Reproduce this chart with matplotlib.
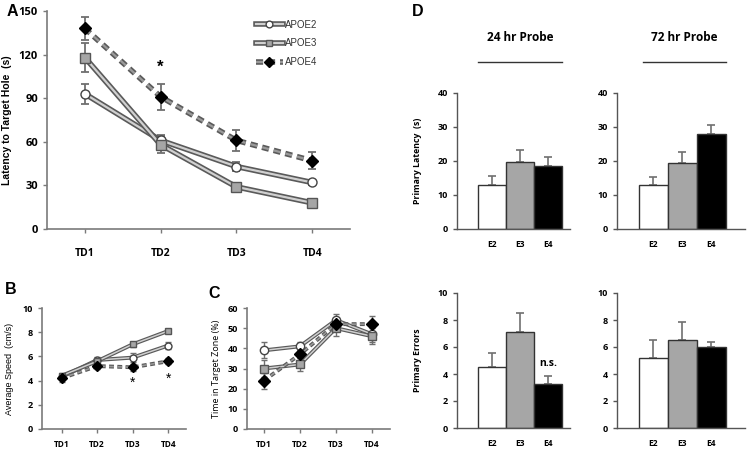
import matplotlib
matplotlib.use("Agg")
import matplotlib.pyplot as plt
import matplotlib.patheffects as pe
from matplotlib.legend_handler import HandlerTuple
import numpy as np

# ---------------- data ----------------
days = ["TD1", "TD2", "TD3", "TD4"]
groups = ["APOE2", "APOE3", "APOE4"]

lat_e2 = [93, 61, 43, 32]
lat_e2_err = [7, 4, 3, 1.5]
lat_e3 = [118, 58, 29, 18]
lat_e3_err = [10, 6, 2, 1.5]
lat_e4 = [138, 91, 61, 47]
lat_e4_err = [8, 9, 7, 6]

spd_e2 = [4.3, 5.7, 5.9, 6.9]
spd_e2_err = [0.2, 0.25, 0.4, 0.3]
spd_e3 = [4.4, 5.6, 7.0, 8.1]
spd_e3_err = [0.2, 0.2, 0.2, 0.2]
spd_e4 = [4.2, 5.2, 5.1, 5.6]
spd_e4_err = [0.3, 0.25, 0.3, 0.25]

tz_e2 = [39, 41, 54, 47]
tz_e2_err = [4, 2, 3, 4]
tz_e3 = [30, 32, 50, 46]
tz_e3_err = [4, 3, 4, 4]
tz_e4 = [24, 37, 52, 52]
tz_e4_err = [4, 2, 3, 4]

bar_labels = ["E2", "E3", "E4"]
pl24 = [12.8, 19.6, 18.6]
pl24_err = [2.8, 3.5, 2.5]
pl72 = [12.8, 19.3, 27.9]
pl72_err = [2.6, 3.2, 2.7]
pe24 = [4.55, 7.1, 3.25]
pe24_err = [1.0, 1.4, 0.6]
pe72 = [5.2, 6.5, 6.0]
pe72_err = [1.3, 1.35, 0.4]

# ---------------- figure ----------------
W, H = 748, 450
fig = plt.figure(figsize=(W / 100, H / 100), dpi=100)

def axpx(l, t, r, b):
    return fig.add_axes([l / W, 1 - b / H, (r - l) / W, (b - t) / H])

TICKFONT = "Open Sans"
ARIAL = "Liberation Sans"

line_styles = {
    "APOE2": dict(marker="o", mfc="white", mec="#444444", ls="-"),
    "APOE3": dict(marker="s", mfc="#a6a6a6", mec="#555555", ls="-"),
    "APOE4": dict(marker="D", mfc="black", mec="black", ls=(0, (3.2, 2.2))),
}

def draw_series(ax, x, y, err, name, lw_in, lw_out, ms, cap, elw):
    st = line_styles[name]
    ax.errorbar(x, y, yerr=err, fmt="none", ecolor="#6f6f6f", elinewidth=elw,
                capsize=cap, capthick=elw, zorder=2)
    ln, = ax.plot(x, y, ls=st["ls"], color="#d0d0d0" if name != "APOE4" else "#9a9a9a",
                  lw=lw_in, zorder=3,
                  path_effects=[pe.Stroke(linewidth=lw_out, foreground="#5a5a5a"), pe.Normal()])
    mk, = ax.plot(x, y, ls="none", marker=st["marker"], mfc=st["mfc"], mec=st["mec"],
                  ms=ms, mew=1.0, zorder=4)
    return ln, mk

def style_line_axes(ax, xlabels, tsize, pad):
    for s in ["top", "right"]:
        ax.spines[s].set_visible(False)
    for s in ["left", "bottom"]:
        ax.spines[s].set_color("#7a7a7a")
        ax.spines[s].set_linewidth(1.2)
    ax.set_xticks(range(1, len(xlabels) + 1))
    ax.set_xticklabels(xlabels)
    ax.tick_params(axis="both", colors="#7a7a7a", width=1, length=3)
    ax.tick_params(axis="x", pad=pad)
    for lab in ax.get_xticklabels() + ax.get_yticklabels():
        lab.set_fontfamily(TICKFONT)
        lab.set_fontweight("bold")
        lab.set_fontsize(tsize)
        lab.set_color("black")

x = np.arange(1, 5)

# ---------------- Panel A ----------------
axA = axpx(47, 11, 350, 229)
hA = {}
for name, y, e in [("APOE2", lat_e2, lat_e2_err), ("APOE3", lat_e3, lat_e3_err),
                   ("APOE4", lat_e4, lat_e4_err)]:
    hA[name] = draw_series(axA, x, y, e, name, 1.6, 4.0, 6.5 if name != "APOE4" else 6.3, 3, 1.3)
axA.set_xlim(0.5, 4.5)
axA.set_ylim(0, 150)
axA.set_yticks([0, 30, 60, 90, 120, 150])
style_line_axes(axA, days, 8, 11)
for lab in axA.get_xticklabels():
    lab.set_fontsize(7.5)
axA.set_ylabel("Latency to Target Hole  (s)", fontsize=7.5, fontweight="bold",
               fontfamily=ARIAL)
axA.yaxis.set_label_coords(-(47 - 12) / 303, 0.5)
axA.text(2, 111, "*", ha="center", va="center", fontsize=12, fontweight="bold",
         fontfamily=ARIAL)
leg = axA.legend([hA[g] for g in groups], groups, handler_map={tuple: HandlerTuple(ndivide=1)},
                 loc="upper left", bbox_to_anchor=(0.66, 1.0), frameon=False,
                 handlelength=2.8, handletextpad=0.2, labelspacing=0.9, markerscale=0.75,
                 prop={"family": ARIAL, "size": 7})
for t in leg.get_texts():
    t.set_color("#333333")

# ---------------- Panel B ----------------
axB = axpx(42, 308, 186, 429)
for name, y, e in [("APOE2", spd_e2, spd_e2_err), ("APOE3", spd_e3, spd_e3_err),
                   ("APOE4", spd_e4, spd_e4_err)]:
    draw_series(axB, x, y, e, name, 1.1, 2.8, 5, 2, 1.0)
axB.set_xlim(0.45, 4.5)
axB.set_ylim(0, 10)
axB.set_yticks([0, 2, 4, 6, 8, 10])
style_line_axes(axB, days, 6.5, 5)
for lab in axB.get_xticklabels():
    lab.set_fontsize(6)
axB.set_ylabel("Average Speed  (cm/s)", fontsize=6.5, fontfamily=ARIAL, labelpad=6)
for xx, yy in [(3, 3.85), (4, 4.15)]:
    axB.text(xx, yy, "*", ha="center", va="center", fontsize=10, fontfamily=ARIAL)

# ---------------- Panel C ----------------
axC = axpx(247, 308, 390, 429)
for name, y, e in [("APOE2", tz_e2, tz_e2_err), ("APOE3", tz_e3, tz_e3_err),
                   ("APOE4", tz_e4, tz_e4_err)]:
    draw_series(axC, x, y, e, name, 1.1, 2.8, 6, 2, 1.0)
axC.set_xlim(0.53, 4.5)
axC.set_ylim(0, 60)
axC.set_yticks([0, 10, 20, 30, 40, 50, 60])
style_line_axes(axC, days, 6.5, 5)
for lab in axC.get_xticklabels():
    lab.set_fontsize(6)
axC.set_ylabel("Time in Target Zone (%)", fontsize=6.5, fontfamily=TICKFONT, labelpad=5)

# ---------------- Panel D ----------------
bar_colors = ["white", "#a6a6a6", "black"]
bx = np.arange(3)

def bar_panel(rect, vals, errs, ylim, yticks, xlim, ylabel=None):
    ax = axpx(*rect)
    ax.bar(bx, vals, width=1.0, color=bar_colors, edgecolor="#333333", linewidth=1.0, zorder=2)
    ax.errorbar(bx, vals, yerr=[np.zeros(3), errs], fmt="none", ecolor="#6f6f6f",
                elinewidth=1.2, capsize=3, capthick=1.2, zorder=1)
    ax.set_xlim(*xlim)
    ax.set_ylim(*ylim)
    ax.set_yticks(yticks)
    ax.set_xticks(bx)
    ax.set_xticklabels(bar_labels)
    for s in ["top", "right"]:
        ax.spines[s].set_visible(False)
    for s in ["left", "bottom"]:
        ax.spines[s].set_color("#555555")
        ax.spines[s].set_linewidth(1.0)
    ax.tick_params(axis="y", colors="#555555", length=3, width=1)
    ax.tick_params(axis="x", length=0, pad=8)
    for lab in ax.get_xticklabels() + ax.get_yticklabels():
        lab.set_fontfamily(TICKFONT)
        lab.set_fontweight("bold")
        lab.set_fontsize(6.5)
        lab.set_color("black")
    for lab in ax.get_xticklabels():
        lab.set_fontsize(6)
    if ylabel:
        ax.set_ylabel(ylabel, fontsize=6.3, fontweight="bold", fontfamily=TICKFONT)
        ax.yaxis.set_label_coords(-(457 - 422) / 113, 0.5)
    return ax

axD1 = bar_panel((457, 93, 570, 229), pl24, pl24_err, (0, 40), [0, 10, 20, 30, 40],
                 (-1.25, 2.79), "Primary Latency  (s)")
axD2 = bar_panel((617, 93, 745, 229), pl72, pl72_err, (0, 40), [0, 10, 20, 30, 40],
                 (-1.26, 3.17))
axD3 = bar_panel((457, 293, 570, 428), pe24, pe24_err, (0, 10), [0, 2, 4, 6, 8, 10],
                 (-1.25, 2.79), "Primary Errors")
axD4 = bar_panel((617, 293, 745, 428), pe72, pe72_err, (0, 10), [0, 2, 4, 6, 8, 10],
                 (-1.26, 3.17))
axD3.text(2, 4.8, "n.s.", ha="center", va="center", fontsize=7.5, fontweight="bold",
          fontfamily=TICKFONT)

for ax, title, x0, x1 in [(axD1, "24 hr Probe", 0.186, 0.929), (axD2, "72 hr Probe", 0.203, 0.852)]:
    ax.plot([x0, x1], [1.228, 1.228], transform=ax.transAxes, color="#333333", lw=1.0,
            clip_on=False)
    ax.text((x0 + x1) / 2, 1.41, title, transform=ax.transAxes, ha="center", va="center",
            fontsize=8.5, fontweight="bold", fontfamily=TICKFONT)

# ---------------- panel letters ----------------
for letter, px, py in [("A", 12, 11), ("B", 11, 289), ("C", 214, 293), ("D", 418, 11)]:
    fig.text(px / W, 1 - py / H, letter, ha="center", va="center", fontsize=11.5,
             fontweight="bold", fontfamily=ARIAL)

fig.savefig("out.png", dpi=100)
